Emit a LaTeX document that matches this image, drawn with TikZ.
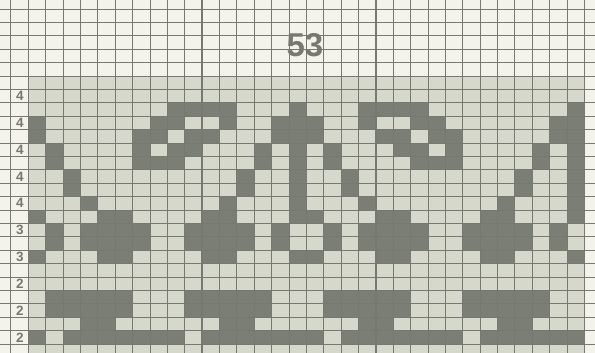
\documentclass[tikz,border=0pt]{standalone}
\usepackage{fontspec}
\setmainfont{Liberation Sans}
\definecolor{paper}{HTML}{F3F3EC}
\definecolor{lightcell}{HTML}{D5D8CB}
\definecolor{darkcell}{HTML}{7B7E74}
\definecolor{gridcol}{HTML}{77786F}
\definecolor{numcol}{HTML}{77786F}
\tikzset{
  gridline/.style={draw=gridcol, line width=0.9pt},
  thickline/.style={draw=gridcol, line width=1.6pt},
  rowlabel/.style={text=numcol, font=\fontsize{13.5}{13.5}\selectfont\bfseries, inner sep=0pt, anchor=center},
  title/.style={text=numcol, font=\fontsize{33}{33}\selectfont\bfseries, inner sep=0pt, anchor=center}
}
\newcommand{\cw}{17.38}
\newcommand{\rh}{13.4}
\newcommand{\gx}{28.3}
\newcommand{\gy}{76}
\newcommand{\darkrow}[2]{%
  \foreach \c in {#2} {
    \fill[darkcell] (\gx+\c*\cw,\gy+#1*\rh) rectangle ++(\cw,\rh);
  }%
}
\begin{document}
\begin{tikzpicture}[x=1pt,y=-1pt]
\useasboundingbox (0,0) rectangle (595,353);
\fill[paper] (0,0) rectangle (595,353);
\fill[lightcell] (\gx,\gy) rectangle (\gx+32*\cw,353);
\darkrow{2}{8,9,10,11,15,19,20,21,22,31}
\darkrow{3}{0,7,8,11,14,15,16,19,22,23,30,31}
\darkrow{4}{0,6,7,9,10,14,15,16,20,21,23,24,30,31}
\darkrow{5}{1,6,8,9,13,15,17,21,22,24,29,31}
\darkrow{6}{1,6,7,8,13,15,17,22,23,24,29,31}
\darkrow{7}{2,12,15,18,28,31}
\darkrow{8}{2,12,15,18,28,31}
\darkrow{9}{3,11,15,19,27,31}
\darkrow{10}{0,4,5,10,11,15,16,20,21,26,27,31}
\darkrow{11}{1,3,4,5,6,9,10,11,12,14,17,19,20,21,22,25,26,27,28,30}
\darkrow{12}{1,3,4,5,6,9,10,11,12,14,17,19,20,21,22,25,26,27,28,30}
\darkrow{13}{0,4,5,10,11,15,16,20,21,26,27,31}
\darkrow{16}{1,2,3,4,5,9,10,11,12,13,17,18,19,20,21,25,26,27,28,29}
\darkrow{17}{1,2,3,4,5,9,10,11,12,13,17,18,19,20,21,25,26,27,28,29}
\darkrow{18}{3,4,11,12,19,20,27,28}
\darkrow{19}{0,2,3,4,5,6,7,8,10,11,12,13,14,15,16,18,19,20,21,22,23,24,26,27,28,29,30,31}
% grid
\foreach \k in {-1,...,33} {
  \draw[gridline] (\gx+\k*\cw,0) -- (\gx+\k*\cw,353);
}
\foreach \k in {-5,...,21} {
  \draw[gridline] (0,\gy+\k*\rh) -- (595,\gy+\k*\rh);
}
\foreach \k in {0,10,20} {
  \draw[thickline] (\gx+\k*\cw,0) -- (\gx+\k*\cw,353);
}
% labels
\foreach \r/\t in {1/4,3/4,5/4,7/4,9/4,11/3,13/3,15/2,17/2,19/2} {
  \node[rowlabel] (lab\r) at (20,\gy+\r*\rh+0.5*\rh) {\t};
}
\node[title] (num) at (305,45) {53};
\end{tikzpicture}
\end{document}
